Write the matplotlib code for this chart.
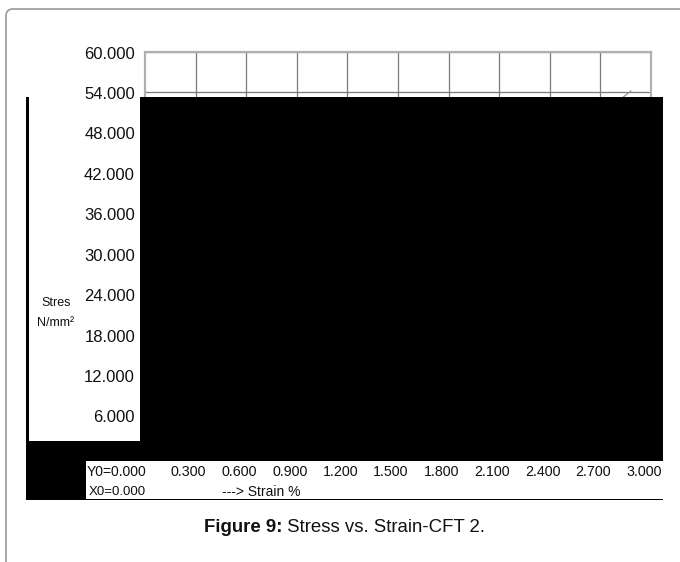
import matplotlib.pyplot as plt
import matplotlib.transforms as mtransforms
from matplotlib.patches import Rectangle, FancyBboxPatch

plt.rcParams['font.family'] = ['Liberation Sans', 'DejaVu Sans']

# stress-strain readings (strain %, stress N/mm2)
strain = [0.0, 0.3, 0.6, 0.9, 1.2, 1.5, 1.8, 2.1, 2.4, 2.7, 2.82, 2.88]
stress = [0.0, 17.5, 29.0, 36.5, 41.5, 45.0, 47.5, 49.2, 50.6, 51.8, 53.0, 54.2]

x_ticks = [0.3, 0.6, 0.9, 1.2, 1.5, 1.8, 2.1, 2.4, 2.7, 3.0]
y_ticks = [6, 12, 18, 24, 30, 36, 42, 48, 54, 60]

W, H = 680, 562
fig = plt.figure(figsize=(W / 100, H / 100), dpi=100)

# plot area in pixel terms: x 145..651, y 52 (60) .. 456 (0)
left, right, top, bottom = 145, 651, 52, 456.4
ax = fig.add_axes([left / W, 1 - bottom / H, (right - left) / W, (bottom - top) / H])
ax.set_xlim(0, 3.0)
ax.set_ylim(0, 60)
ax.set_xticks(x_ticks)
ax.set_yticks(y_ticks)
ax.tick_params(length=0, labelbottom=False, labelleft=False)
ax.grid(True, color='#7a7a7a', linewidth=0.9)
ax.set_axisbelow(True)
for sp in ax.spines.values():
    sp.set_color('#b0b0b0')
    sp.set_linewidth(1.6)
ax.plot(strain, stress, color='#909090', linewidth=0.9)

# page layer in pixel coordinates
ov = fig.add_axes([0, 0, 1, 1], zorder=5)
ov.set_xlim(0, W)
ov.set_ylim(H, 0)
ov.axis('off')
ov.patch.set_visible(False)

ov.add_patch(FancyBboxPatch((6, 9), 690, 600, boxstyle='round,pad=0,rounding_size=7',
                            facecolor='none', edgecolor='#9a9a9a', linewidth=1.2))

ov.add_patch(Rectangle((26, 97), 637, 403, facecolor='black', edgecolor='none'))
ov.add_patch(Rectangle((29, 97), 111, 344, facecolor='white', edgecolor='none'))
box = Rectangle((86, 461), 577, 38, facecolor='white', edgecolor='none')
ov.add_patch(box)

# y tick labels
ytr = mtransforms.blended_transform_factory(ov.transData, ax.transData)
for v in y_ticks:
    ov.text(135, v - 0.3, f'{v:.3f}', transform=ytr, ha='right', va='center',
            fontsize=12, color='#111111')

# x tick labels
xtr = mtransforms.offset_copy(
    mtransforms.blended_transform_factory(ax.transData, ov.transData),
    fig=fig, x=-7, y=0, units='dots')
for v in x_ticks:
    t = ov.text(v, 472, f'{v:.3f}', transform=xtr, ha='center', va='center',
                fontsize=10.3, color='#111111')
    t.set_clip_path(box)

ov.text(117, 472, 'Y0=0.000', ha='center', va='center', fontsize=10, color='#111111')
ov.text(117, 492, 'X0=0.000', ha='center', va='center', fontsize=9.5, color='#111111')
ov.text(261, 492, '---> Strain %', ha='center', va='center', fontsize=10, color='#111111')

ov.text(56, 303, 'Stres', ha='center', va='center', fontsize=9, color='#111111')
ov.text(56, 323, 'N/mm²', ha='center', va='center', fontsize=9, color='#111111')

# caption: bold figure number followed by plain title
ov.text(282.5, 527, 'Figure 9:', ha='right', va='center', fontsize=13.4,
        fontweight='bold', color='#111111')
ov.text(282.5, 527, ' Stress vs. Strain-CFT 2.', ha='left', va='center', fontsize=13.4,
        color='#111111')

fig.savefig('out.png', dpi=100)
